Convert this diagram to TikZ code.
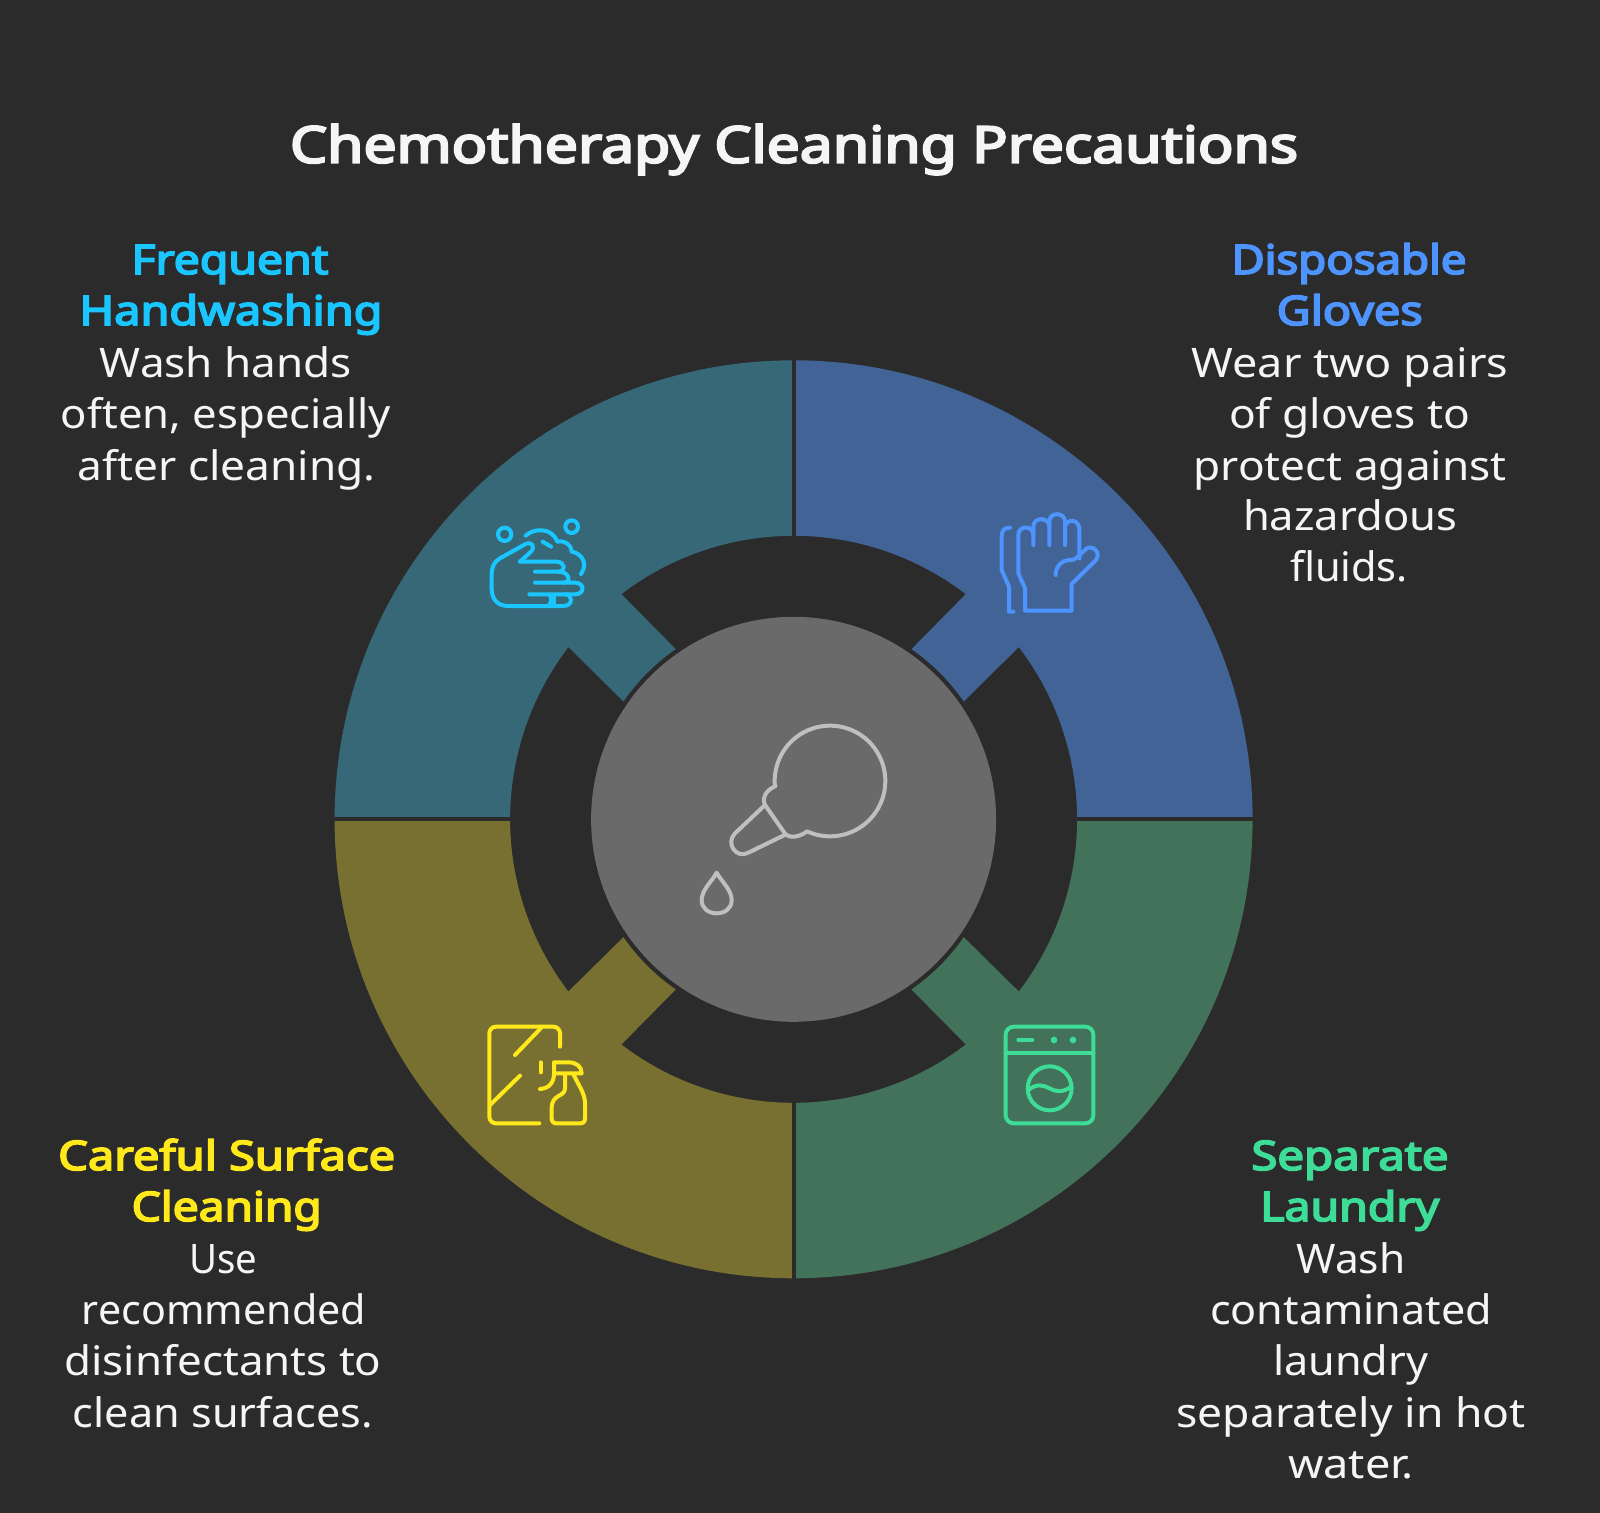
\documentclass[tikz,border=0pt]{standalone}
\usepackage{fontspec}
\usepackage{graphicx}
\setmainfont{Noto Sans}
\newfontfamily\headf{Noto Sans}[FakeBold=4]
\definecolor{bgc}{HTML}{2B2B2B}
\definecolor{secblue}{HTML}{426395}
\definecolor{secteal}{HTML}{376878}
\definecolor{secolive}{HTML}{787030}
\definecolor{secgreen}{HTML}{42725A}
\definecolor{centerc}{HTML}{6A6A6A}
\definecolor{icongray}{HTML}{BFBFBF}
\definecolor{txtc}{HTML}{F5F5F5}
\definecolor{cyanc}{HTML}{1AC6FF}
\definecolor{bluec}{HTML}{4D94FF}
\definecolor{yellowc}{HTML}{FFE91A}
\definecolor{greenc}{HTML}{3DDC97}
\newcommand{\fitline}[2]{\resizebox{\dimexpr #1pt*3/4\relax}{\height}{#2}}
\tikzset{
  bodytxt/.style={anchor=base,inner sep=0pt,text=txtc,font=\fontsize{30.5}{36}\selectfont},
  headtxt/.style={anchor=base,inner sep=0pt,font=\fontsize{30.5}{36}\selectfont\headf},
  titletxt/.style={anchor=base,inner sep=0pt,text=txtc,font=\fontsize{38}{44}\selectfont\headf},
  iconline/.style={draw=#1,line width=3pt,line cap=round,line join=round},
  icongrid/.style={x=.25pt,y=-.25pt}
}
\newcommand{\sectorpath}{(90:459) arc[start angle=90,end angle=0,radius=459] -- (0:283.5) arc[start angle=0,end angle=37.4,radius=283.5] -- (34.7:207) arc[start angle=34.7,end angle=55.3,radius=207] -- (52.6:283.5) arc[start angle=52.6,end angle=90,radius=283.5] -- cycle}
\begin{document}
\begin{tikzpicture}[x=.75pt,y=-.75pt]
\useasboundingbox (0,0) rectangle (1600,1513);
\fill[bgc] (0,0) rectangle (1600,1513);
% ---- sectors
\begin{scope}[shift={(793.6,819.3)},x=.75pt,y=.75pt]
  \fill[secblue] \sectorpath;
  \begin{scope}[rotate=-90]\fill[secgreen] \sectorpath;\end{scope}
  \begin{scope}[rotate=180]\fill[secolive] \sectorpath;\end{scope}
  \begin{scope}[rotate=90]\fill[secteal] \sectorpath;\end{scope}
  \draw[bgc,line width=3pt] (0,270) -- (0,470) (0,-270) -- (0,-470) (270,0) -- (470,0) (-270,0) -- (-470,0);
  \fill[centerc] (0,0) circle[radius=202.5];
\end{scope}
% ---- centre icon
\begin{scope}[shift={(680,700)},icongrid]
  \draw[iconline=icongray] (255,315) .. controls (245,290) and (260,270) .. (287,258)
     -- plot[domain=174.7:474.5,samples=72,smooth] ({450+166*cos(\x)},{243+166*sin(\x)})
     .. controls (360,410) and (335,415) .. (318,405) -- cycle;
  \draw[iconline=icongray] (255,315) -- (165,400) .. controls (135,430) and (170,478) .. (205,458) -- (318,403);
  \draw[iconline=icongray] (110,518) .. controls (95,545) and (65,570) .. (65,600) .. controls (65,625) and (85,640) .. (110,640) .. controls (135,640) and (155,625) .. (155,600) .. controls (155,570) and (125,545) .. (110,518) -- cycle;
\end{scope}
% ---- glove icon
\begin{scope}[shift={(960,490)},icongrid]
  \draw[iconline=bluec] (150,113) .. controls (132,113) and (125,122) .. (125,138) -- (125,240) -- (147,290) -- (147,365) -- (160,365);
  \draw[iconline=bluec] (287,255) .. controls (287,230) and (305,210) .. (330,210) .. controls (340,210) and (345,208) .. (350,203) -- (380,175) .. controls (395,165) and (425,185) .. (408,210) -- (335,282) -- (335,362) -- (195,362) -- (195,295) -- (175,250) -- (175,135) .. controls (175,105) and (220,105) .. (220,135) -- (220,165);
  \draw[iconline=bluec] (220,135) -- (220,110) .. controls (220,80) and (268,80) .. (268,110) -- (268,165);
  \draw[iconline=bluec] (268,110) -- (268,95) .. controls (268,65) and (315,65) .. (315,95) -- (315,165);
  \draw[iconline=bluec] (315,110) .. controls (320,85) and (358,85) .. (358,120) -- (358,205);
\end{scope}
% ---- handwash icon
\begin{scope}[shift={(470,500)},icongrid]
  \draw[iconline=cyanc] (104,103) circle[radius=20];
  \draw[iconline=cyanc] (305,80) circle[radius=19];
  \draw[iconline=cyanc] (167,107) .. controls (190,85) and (245,80) .. (262,125) .. controls (285,120) and (305,135) .. (305,155) .. controls (335,160) and (355,190) .. (333,222);
  \draw[iconline=cyanc] (218,125) -- (243,140);
  \draw[iconline=cyanc] (150,185) -- (183,155) .. controls (197,140) and (185,122) .. (165,133) -- (90,175) .. controls (72,185) and (65,200) .. (65,225) -- (65,265) .. controls (65,300) and (85,318) .. (115,318) -- (280,318) .. controls (310,318) and (310,283) .. (285,283);
  \draw[iconline=cyanc] (150,185) -- (260,185) .. controls (285,185) and (290,215) .. (265,215) -- (195,215);
  \draw[iconline=cyanc] (265,215) .. controls (300,215) and (305,248) .. (280,248) -- (195,248);
  \draw[iconline=cyanc] (280,248) -- (315,248) .. controls (345,248) and (345,283) .. (315,283) -- (178,283);
  \draw[iconline=cyanc] (240,285) .. controls (245,295) and (245,308) .. (235,318);
  \draw[iconline=cyanc] (252,285) -- (252,318);
\end{scope}
% ---- spray icon
\begin{scope}[shift={(470,1010)},icongrid]
  \draw[iconline=yellowc,rounded corners=5pt] (208,340) -- (58,340) -- (58,50) -- (270,50) -- (270,110);
  \draw[iconline=yellowc] (212,55) -- (135,135);
  \draw[iconline=yellowc] (150,197) -- (60,285);
  \draw[iconline=yellowc] (212,157) -- (212,187);
  \draw[iconline=yellowc] (210,237) .. controls (240,235) and (252,215) .. (252,190) -- (252,157) -- (295,157) .. controls (320,157) and (335,170) .. (335,190) -- (252,190);
  \draw[iconline=yellowc] (285,192) -- (285,235) .. controls (285,262) and (245,250) .. (245,295) -- (245,325) .. controls (245,335) and (250,340) .. (260,340) -- (330,340) .. controls (340,340) and (345,335) .. (345,325) -- (345,280) .. controls (345,250) and (325,225) .. (310,192);
\end{scope}
% ---- washer icon
\begin{scope}[shift={(980,1010)},icongrid]
  \draw[iconline=greenc,rounded corners=6pt] (77,50) rectangle (340,340);
  \draw[iconline=greenc] (77,128) -- (340,128);
  \draw[iconline=greenc] (115,90) -- (157,90);
  \fill[greenc] (222,90) circle[radius=10] (279,90) circle[radius=10];
  \draw[iconline=greenc] (209,235) circle[radius=66];
  \draw[iconline=greenc] (145,240) .. controls (170,220) and (190,225) .. (209,235) .. controls (230,247) and (250,247) .. (273,230);
\end{scope}
% ---- title
\node[titletxt] (title) at (794,162.7) {\fitline{1008}{Chemotherapy Cleaning Precautions}};
% ---- Disposable Gloves
\node[headtxt,text=bluec] (g1) at (1349,274) {\fitline{235}{Disposable}};
\node[headtxt,text=bluec] (g2) at (1349.7,325) {\fitline{146}{Gloves}};
\node[bodytxt] (g3) at (1350,377) {\fitline{317}{Wear two pairs}};
\node[bodytxt] (g4) at (1349.7,428) {\fitline{241}{of gloves to}};
\node[bodytxt] (g5) at (1350,480) {\fitline{313}{protect against}};
\node[bodytxt] (g6) at (1350,530.5) {\fitline{214}{hazardous}};
\node[bodytxt] (g7) at (1349,581.5) {\fitline{118}{fluids.}};
% ---- Frequent Handwashing
\node[headtxt,text=cyanc] (h1) at (230,274) {\fitline{197}{Frequent}};
\node[headtxt,text=cyanc] (h2) at (231,325) {\fitline{303}{Handwashing}};
\node[bodytxt] (h3) at (226,377) {\fitline{252}{Wash hands}};
\node[bodytxt] (h4) at (226,428) {\fitline{330}{often, especially}};
\node[bodytxt] (h5) at (226.5,480) {\fitline{298}{after cleaning.}};
% ---- Careful Surface Cleaning
\node[headtxt,text=yellowc] (c1) at (226.7,1170) {\fitline{337}{Careful Surface}};
\node[headtxt,text=yellowc] (c2) at (226.7,1221) {\fitline{190}{Cleaning}};
\node[bodytxt] (c3) at (223,1273) {\fitline{68}{Use}};
\node[bodytxt] (c4) at (224,1324) {\fitline{284}{recommended}};
\node[bodytxt] (c5) at (223,1375) {\fitline{317}{disinfectants to}};
\node[bodytxt] (c6) at (223,1427) {\fitline{300}{clean surfaces.}};
% ---- Separate Laundry
\node[headtxt,text=greenc] (s1) at (1350,1170) {\fitline{197}{Separate}};
\node[headtxt,text=greenc] (s2) at (1349.7,1221) {\fitline{179}{Laundry}};
\node[bodytxt] (s3) at (1351,1273) {\fitline{109}{Wash}};
\node[bodytxt] (s4) at (1351,1324) {\fitline{282}{contaminated}};
\node[bodytxt] (s5) at (1350.5,1375) {\fitline{155}{laundry}};
\node[bodytxt] (s6) at (1351,1427) {\fitline{349}{separately in hot}};
\node[bodytxt] (s7) at (1351,1478) {\fitline{126}{water.}};
\end{tikzpicture}
\end{document}
